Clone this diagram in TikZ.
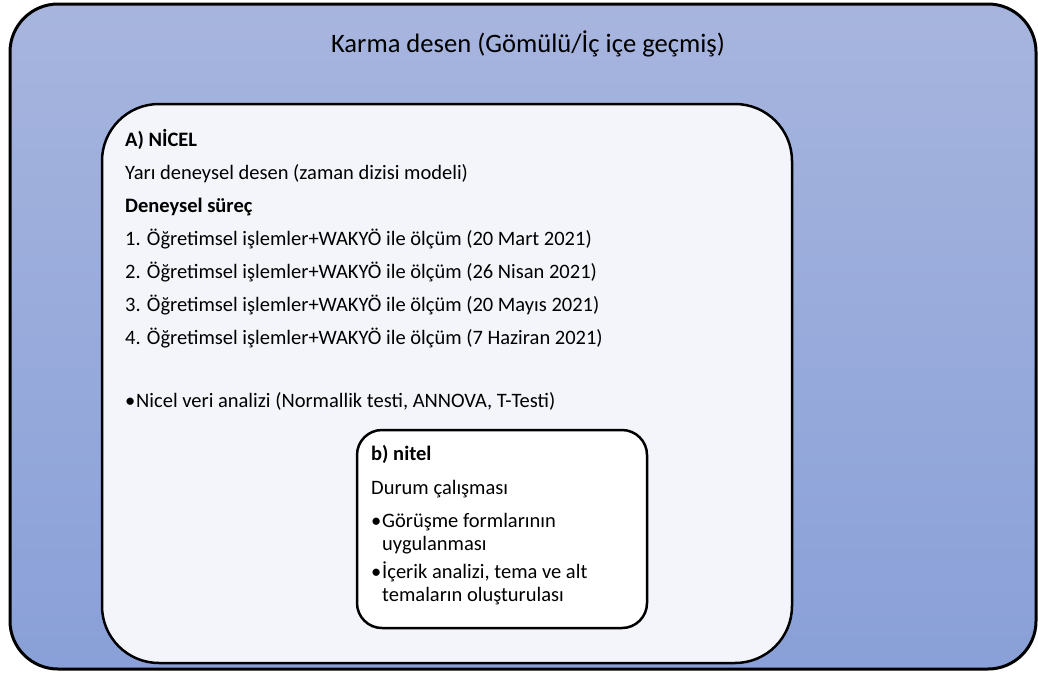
\documentclass[tikz,border=0pt]{standalone}
\usepackage{fontspec}
\setmainfont{Carlito}
\definecolor{karmaust}{RGB}{167,181,222}
\definecolor{karmaalt}{RGB}{137,160,216}
\definecolor{nicelzemin}{RGB}{243,245,250}

\begin{document}
\begin{tikzpicture}[x=1pt,y=-1pt,
    kutu/.style={draw=black,rounded corners=#1,line width=2.5pt,inner sep=0pt},
    satir/.style={anchor=base west,inner sep=0pt,font=\fontsize{20.5}{24}\selectfont},
    kalin/.style={satir,font=\fontsize{20.5}{24}\selectfont\bfseries}]
  \useasboundingbox (0,0) rectangle (1038,675);
  % dis kutu
  \node[kutu=48pt,line width=3pt,top color=karmaust,bottom color=karmaalt,
        minimum width=1026pt,minimum height=665pt] (karma) at (523,336.5) {};
  \node[anchor=base,inner sep=0pt,font=\fontsize{26.6}{32}\selectfont] (baslik) at (528,52) {Karma desen (Gömülü/İç içe geçmiş)};
  % nicel kutu
  \node[kutu=57pt,fill=nicelzemin,minimum width=690pt,minimum height=559pt] (nicel) at (447,383.5) {};
  \node[kalin] (a0) at (125,146) {A) NİCEL};
  \node[satir] (a1) at (125,179) {Yarı deneysel desen (zaman dizisi modeli)};
  \node[kalin] (a2) at (125,212) {Deneysel süreç};
  \node[satir] (a3) at (125,245) {1. Öğretimsel işlemler+WAKYÖ ile ölçüm (20 Mart 2021)};
  \node[satir] (a4) at (125,278) {2. Öğretimsel işlemler+WAKYÖ ile ölçüm (26 Nisan 2021)};
  \node[satir] (a5) at (125,311) {3. Öğretimsel işlemler+WAKYÖ ile ölçüm (20 Mayıs 2021)};
  \node[satir] (a6) at (125,344) {4. Öğretimsel işlemler+WAKYÖ ile ölçüm (7 Haziran 2021)};
  \node[satir] (a7) at (125,407) {\makebox[11pt][l]{•}Nicel veri analizi (Normallik testi, ANNOVA, T-Testi)};
  % nitel kutu
  \node[kutu=25pt,fill=white,minimum width=290pt,minimum height=198pt] (nitel) at (502,529) {};
  \node[kalin] (b0) at (371,460) {b) nitel};
  \node[satir] (b1) at (371,494) {Durum çalışması};
  \node[satir] (b2) at (371,527) {\makebox[11pt][l]{•}Görüşme formlarının};
  \node[satir] (b3) at (382,550) {uygulanması};
  \node[satir] (b4) at (371,578) {\makebox[11pt][l]{•}İçerik analizi, tema ve alt};
  \node[satir] (b5) at (382,601) {temaların oluşturulası};
\end{tikzpicture}
\end{document}
